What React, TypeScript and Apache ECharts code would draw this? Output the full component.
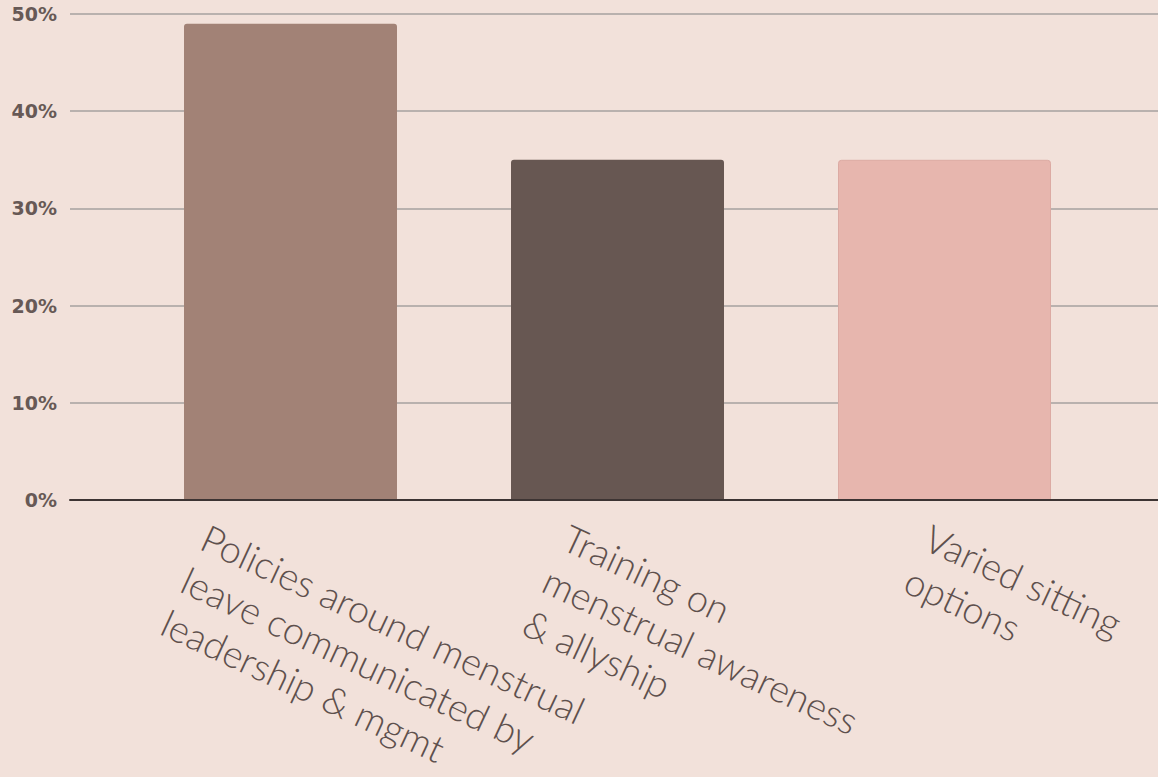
import React, { useEffect, useRef } from "react";
import * as echarts from "echarts";

const categories = [
  "Policies around menstrual\nleave communicated by\nleadership & mgmt",
  "Training on\nmenstrual awareness\n& allyship",
  "Varied sitting\noptions",
];
const values = [0.49, 0.35, 0.35];
const barColors = ["#A28276", "#675752", "#E7B6AE"];
const yTicks = [0, 0.1, 0.2, 0.3, 0.4, 0.5];

export default function App() {
  const ref = useRef<HTMLDivElement>(null);
  useEffect(() => {
    document.body.style.margin = "0";
    const chart = echarts.init(ref.current!, null, { renderer: "svg" });
    const top = 14;
    const bottom = 277;
    chart.setOption({
      animation: false,
      backgroundColor: "#F2E1DA",
      grid: [
        { left: 70, right: 0, top, bottom, outerBoundsMode: "none", containLabel: false },
        { left: 127, right: 50, top, bottom, outerBoundsMode: "none", containLabel: false },
        { left: 33, right: 40, top, bottom, outerBoundsMode: "none", containLabel: false },
      ],
      xAxis: [
        {
          gridIndex: 0,
          type: "category",
          data: [""],
          axisLine: { show: true, lineStyle: { color: "#3d3433", width: 2 } },
          axisTick: { show: false },
          axisLabel: { show: false },
          z: 5,
        },
        {
          gridIndex: 1,
          type: "category",
          data: categories,
          axisLine: { show: false },
          axisTick: { show: false },
          axisLabel: { show: false },
        },
        {
          gridIndex: 2,
          type: "category",
          data: categories,
          axisLine: { show: false },
          axisTick: { show: false },
          axisLabel: {
            show: true,
            interval: 0,
            rotate: -25,
            align: "left",
            verticalAlign: "top",
            margin: 14,
            fontFamily: "Lato",
            fontWeight: 300,
            fontSize: 38,
            lineHeight: 47,
            color: "#5e504d",
          },
        },
      ],
      yAxis: [
        {
          gridIndex: 0,
          type: "value",
          min: yTicks[0],
          max: yTicks[yTicks.length - 1],
          interval: 0.1,
          axisLine: { show: false },
          axisTick: { show: false },
          axisLabel: {
            margin: 13,
            formatter: (v: number) => Math.round(v * 100) + "%",
            fontFamily: "DejaVu Sans",
            fontWeight: "bold",
            fontSize: 19,
            color: "#675956",
          },
          splitLine: { lineStyle: { color: "#b9b1ae", width: 2 } },
        },
        {
          gridIndex: 1,
          type: "value",
          min: 0,
          max: 0.5,
          show: false,
          splitLine: { show: false },
        },
        {
          gridIndex: 2,
          type: "value",
          min: 0,
          max: 0.5,
          show: false,
          splitLine: { show: false },
        },
      ],
      series: [
        {
          type: "bar",
          xAxisIndex: 1,
          yAxisIndex: 1,
          barWidth: 213,
          z: 3,
          data: values.map((v, i) => ({
            value: v,
            itemStyle: {
              color: barColors[i],
              borderRadius: [3, 3, 0, 0],
              borderColor: i === 2 ? "#dcaaa3" : barColors[i],
              borderWidth: i === 2 ? 1 : 0,
            },
          })),
        },
      ],
    });
    return () => chart.dispose();
  }, []);
  return (
    <div
      ref={ref}
      style={{ position: "fixed", left: 0, top: 0, width: 1158, height: 777 }}
    />
  );
}
